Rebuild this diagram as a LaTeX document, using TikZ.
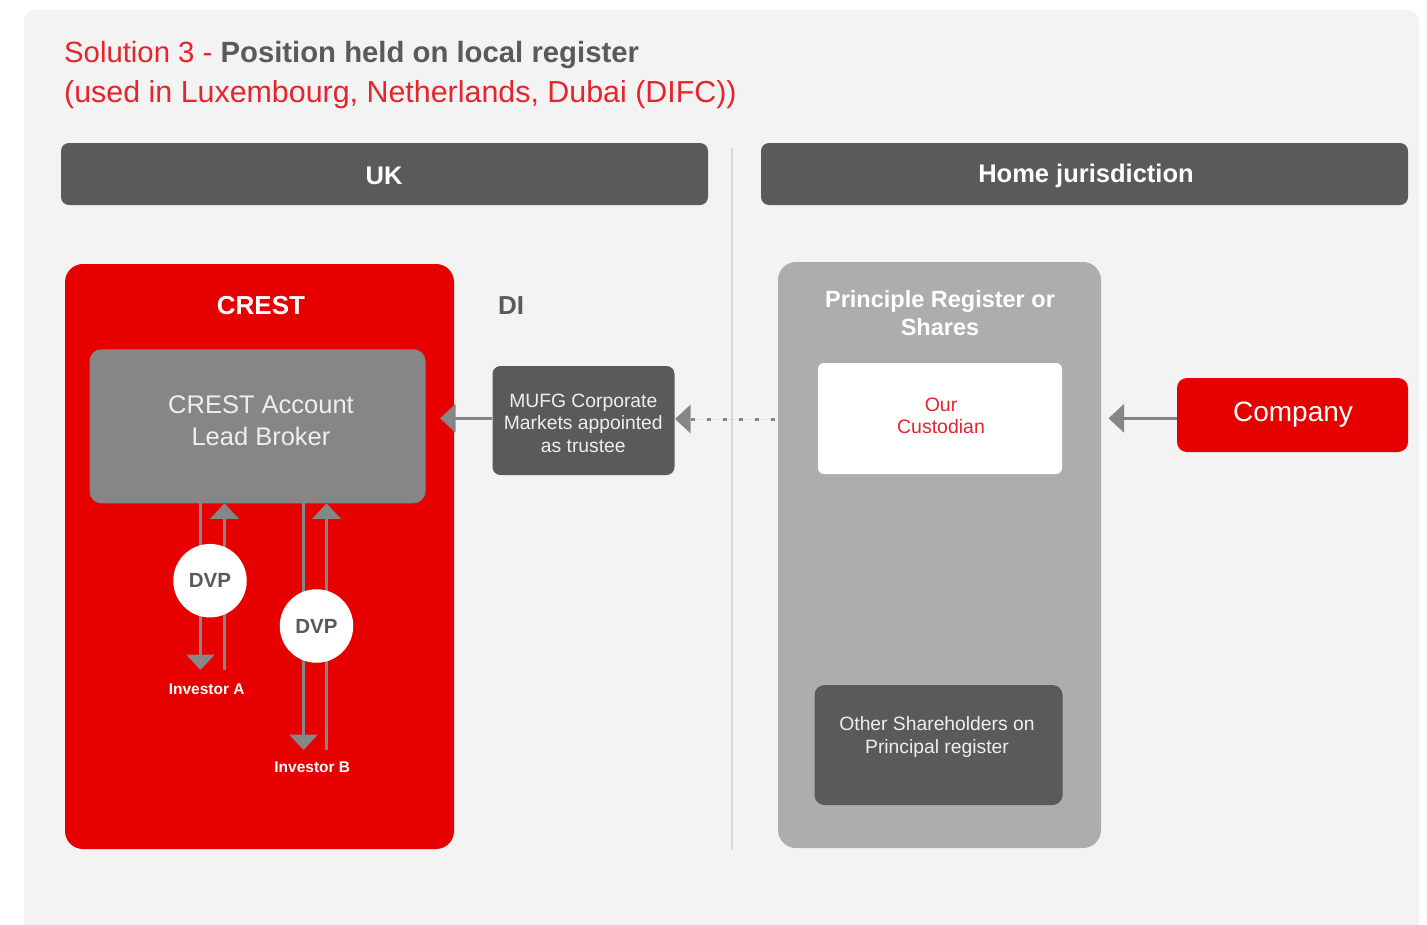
\documentclass[tikz,border=0pt]{standalone}
\usepackage{fontspec}
\setmainfont{Liberation Sans}
\usetikzlibrary{arrows.meta}
\definecolor{bgc}{HTML}{F3F3F3}
\definecolor{crestred}{HTML}{E60000}
\definecolor{titlered}{HTML}{E5242C}
\definecolor{darkg}{HTML}{5A5A5A}
\definecolor{midg}{HTML}{868686}
\definecolor{lightg}{HTML}{ADADAD}
\definecolor{divg}{HTML}{D9D9D9}
\definecolor{softw}{HTML}{EEEEEE}
\begin{document}
\begin{tikzpicture}[x=1pt,y=-1pt,
  panel/.style={rectangle, inner sep=0pt, draw=none},
  lbl/.style={inner sep=0pt, anchor=base},
  conn/.style={draw=midg, fill=midg, line width=3pt, -{Triangle[width=28pt,length=15.5pt]}},
  dotconn/.style={conn, dash pattern=on 3.5pt off 12.5pt},
  dvp/.style={circle, fill=white, minimum size=73.5pt, inner sep=0pt, text=darkg, font=\fontsize{20.5}{24}\selectfont\bfseries},
  hdr/.style={lbl, text=white, font=\fontsize{25.5}{30}\selectfont\bfseries},
]
\useasboundingbox (0,0) rectangle (1427,924);
% background panel
\fill[bgc, rounded corners=11pt] (24,10) rectangle (1419,980);

% title
\node[lbl, anchor=base west] (title1) at (64,62) {\fontsize{29.3}{34}\selectfont\color{titlered}Solution 3 - \color{darkg}\bfseries Position held on local register};
\node[lbl, anchor=base west] (title2) at (64,102) {\fontsize{30.4}{34}\selectfont\color{titlered}(used in Luxembourg, Netherlands, Dubai (DIFC))};

% headers
\node[panel, fill=darkg, rounded corners=8pt, minimum width=647pt, minimum height=62pt] (uk) at (384.5,174) {};
\node[panel, fill=darkg, rounded corners=8pt, minimum width=647pt, minimum height=62pt] (home) at (1084.5,174) {};
\node[hdr] (uklbl) at (384,184) {UK};
\node[hdr] (homelbl) at (1086,182) {Home jurisdiction};

% divider
\draw[divg, line width=2pt] (732,148) -- (732,850);

% CREST
\node[panel, fill=crestred, rounded corners=18pt, minimum width=389pt, minimum height=585pt] (crest) at (259.5,556.5) {};
\node[lbl, text=white, font=\fontsize{26}{30}\selectfont\bfseries] (crestlbl) at (261,314) {CREST};
\node[panel, fill=midg, rounded corners=12pt, minimum width=336pt, minimum height=154pt] (crestacc) at (257.5,426.3) {};
\node[inner sep=0pt, align=center, text=softw, font=\fontsize{25.5}{32}\selectfont] (crestacclbl) at (261,421) {CREST Account\\Lead Broker};

% DI
\node[lbl, anchor=base west, text=darkg, font=\fontsize{26}{30}\selectfont\bfseries] (dilbl) at (498,314) {DI};
\node[panel, fill=darkg, rounded corners=8pt, minimum width=182pt, minimum height=109pt] (mufg) at (583.5,420.5) {};
\node[inner sep=0pt, align=center, text=softw, font=\fontsize{19.3}{22.5}\selectfont] (mufglbl) at (583.3,423) {MUFG Corporate\\Markets appointed\\as trustee};

% Principle register
\node[panel, fill=lightg, rounded corners=18pt, minimum width=323pt, minimum height=586pt] (principle) at (939.5,555) {};
\node[inner sep=0pt, align=center, text=white, font=\fontsize{23.5}{28}\selectfont\bfseries] (principlelbl) at (940,313) {Principle Register or\\Shares};
\node[panel, fill=white, rounded corners=6pt, minimum width=244pt, minimum height=111pt] (custodian) at (940,418.5) {};
\node[inner sep=0pt, align=center, text=titlered, font=\fontsize{19.5}{22.5}\selectfont] (custodianlbl) at (941,416) {Our\\Custodian};
\node[panel, fill=darkg, rounded corners=10pt, minimum width=248pt, minimum height=120pt] (others) at (938.5,745) {};
\node[inner sep=0pt, align=center, text=softw, font=\fontsize{19.3}{23}\selectfont] (otherslbl) at (937,737) {Other Shareholders on\\Principal register};

% Company
\node[panel, fill=crestred, rounded corners=10pt, minimum width=231pt, minimum height=74pt] (company) at (1292.5,415) {};
\node[lbl, text=white, font=\fontsize{28}{32}\selectfont] (companylbl) at (1293,421.5) {Company};

% connectors
\coordinate (mufgtip) at (440,418.3);
\coordinate (dottip) at (675,419);
\coordinate (comptip) at (1108.5,418.3);
\draw[conn] (mufg.west |- mufgtip) -- (mufgtip);
\draw[dotconn, shorten <=3pt] (principle.west |- dottip) -- (dottip);
\draw[conn] (company.west |- comptip) -- (comptip);

% DVP flows
\coordinate (adtop) at (200.5,503);
\coordinate (adbot) at (200.5,670);
\coordinate (aubot) at (224.5,670);
\coordinate (autop) at (224.5,503.3);
\coordinate (bdtop) at (303.5,503);
\coordinate (bdbot) at (303.5,750);
\coordinate (bubot) at (326.5,750);
\coordinate (butop) at (326.5,503.3);
\draw[conn] (adtop) -- (adbot);
\draw[conn] (aubot) -- (autop);
\draw[conn] (bdtop) -- (bdbot);
\draw[conn] (bubot) -- (butop);
\node[dvp] (dvpA) at (210,580.7) {DVP};
\node[dvp] (dvpB) at (316.5,626) {DVP};
\node[lbl, text=white, font=\fontsize{15.5}{18}\selectfont\bfseries] (invA) at (206.7,694) {Investor A};
\node[lbl, text=white, font=\fontsize{15.5}{18}\selectfont\bfseries] (invB) at (312.3,772.3) {Investor B};
\end{tikzpicture}
\end{document}
